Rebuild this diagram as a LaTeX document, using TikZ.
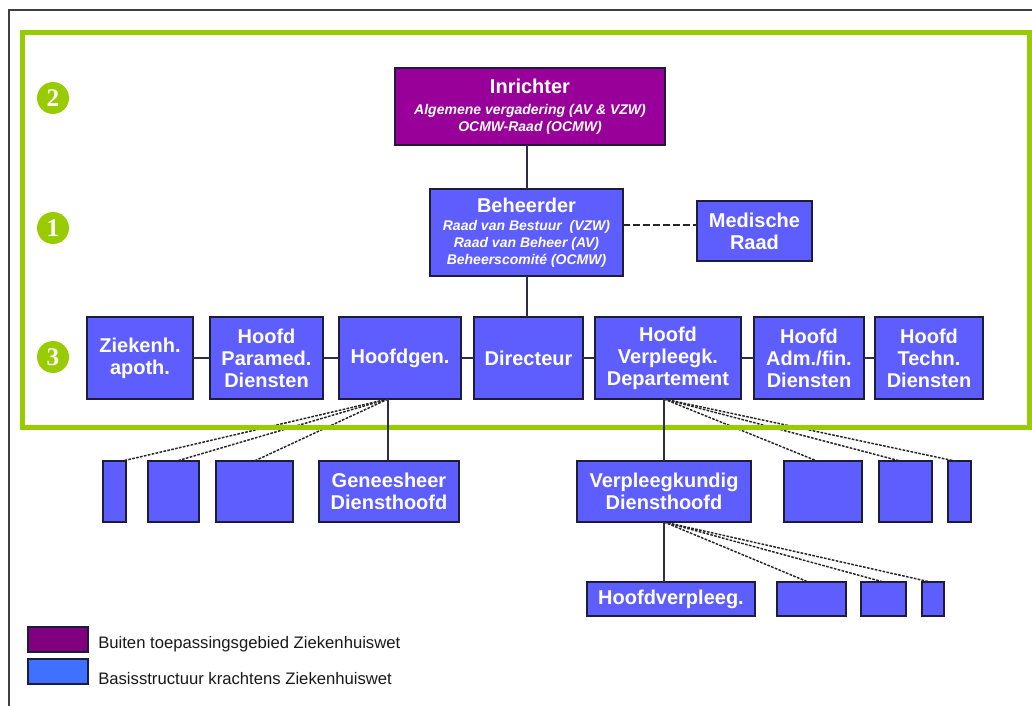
\documentclass[tikz,border=0pt]{standalone}
\usepackage{fontspec}
\setmainfont{Liberation Sans}
\newfontfamily\digitfont{Liberation Serif}
\usetikzlibrary{calc}
\definecolor{boxblue}{RGB}{94,94,255}
\definecolor{boxpurple}{RGB}{153,0,153}
\definecolor{boxline}{RGB}{28,28,60}
\definecolor{framegreen}{RGB}{153,204,0}
\definecolor{legblue}{RGB}{64,112,255}
\definecolor{legpurple}{RGB}{128,0,128}
\definecolor{conline}{RGB}{45,45,70}
\newcommand{\bfbox}{\normalfont\fontsize{15}{16.5}\selectfont\bfseries}
\newcommand{\itbox}{\normalfont\fontsize{10.5}{12.75}\selectfont\bfseries\itshape}
\newcommand{\ob}[7][orgbox]{\node[#1, minimum width={(#4-#2)*0.75pt}, minimum height={(#5-#3)*0.75pt}] (#6) at ({(#2+#4)/2},{(#3+#5)/2}) {#7};}
\begin{document}
\begin{tikzpicture}[x=0.75pt,y=-0.75pt,
  orgbox/.style={draw=boxline, line width=1.5pt, fill=boxblue, text=white, align=center, inner sep=0pt, outer sep=0pt, font=\bfbox},
  purplebox/.style={orgbox, fill=boxpurple, font=\itbox},
  headbox/.style={orgbox, font=\itbox},
  link/.style={draw=conline, line width=1.5pt},
  dotlink/.style={draw=black!85, line width=1.1pt, dash pattern=on 2pt off 1pt},
  medlink/.style={draw=black!85, line width=1.3pt, dash pattern=on 5pt off 2.5pt},
  badge/.style={circle, fill=framegreen, minimum size=24pt, inner sep=0pt, text=white, font=\digitfont\bfseries\fontsize{19}{19}\selectfont},
  legbox/.style={draw=boxline, line width=1.2pt, inner sep=0pt, outer sep=0pt},
  legtext/.style={anchor=west, inner sep=0pt, font=\fontsize{12.5}{14}\selectfont, text=black!90}
]
\useasboundingbox (0,0) rectangle (1032,706);

% boxes
\ob[purplebox]{395}{68}{665}{145}{inr}{{\bfbox Inrichter}\\[3pt]Algemene vergadering (AV \& VZW)\\OCMW-Raad (OCMW)}
\ob[headbox]{430}{189}{623}{276}{beh}{{\bfbox Beheerder}\\[1pt]Raad van Bestuur\ \ (VZW)\\Raad van Beheer (AV)\\Beheerscomit\'e (OCMW)}
\ob{697}{201}{812}{261}{med}{Medische\\Raad}
\ob{87}{317}{193}{399}{zie}{Ziekenh.\\apoth.}
\ob{210}{317}{323}{399}{par}{Hoofd\\Paramed.\\Diensten}
\ob{339}{317}{461}{399}{hgen}{Hoofdgen.}
\ob{474}{317}{583}{399}{dir}{Directeur}
\ob{595}{317}{741}{399}{hvd}{Hoofd\\Verpleegk.\\Departement}
\ob{754}{317}{864}{399}{adm}{Hoofd\\Adm./fin.\\Diensten}
\ob{875}{317}{983}{399}{tech}{Hoofd\\Techn.\\Diensten}
\ob{103}{461}{126}{522}{s1}{}
\ob{148}{461}{199}{522}{s2}{}
\ob{216}{461}{293}{522}{s3}{}
\ob{319}{461}{459}{522}{gen}{Geneesheer\\Diensthoofd}
\ob{577}{461}{751}{522}{vdh}{Verpleegkundig\\Diensthoofd}
\ob{784}{461}{862}{522}{a1}{}
\ob{879}{461}{932}{522}{a2}{}
\ob{948}{461}{971}{522}{a3}{}
\ob{587}{582}{755}{616}{hvp}{Hoofdverpleeg.}
\ob{777}{582}{846}{616}{b1}{}
\ob{861}{582}{906}{616}{b2}{}
\ob{922}{582}{944}{616}{b3}{}

\coordinate (hg0) at ([xshift=-9pt]hgen.south);
\coordinate (hv0) at ([xshift=-3pt]hvd.south);

% dashed fans
\draw[dotlink] (hg0) -- ([xshift=6pt]s1.north);
\draw[dotlink] (hg0) -- ([xshift=2.5pt]s2.north);
\draw[dotlink] (hg0) -- (s3.north);
\draw[dotlink] (hv0) -- ([xshift=-4.5pt]a1.north);
\draw[dotlink] (hv0) -- ([xshift=-4pt]a2.north);
\draw[dotlink] (hv0) -- ([xshift=-3.5pt]a3.north);
\draw[dotlink] (vdh.south) -- ([xshift=-2.5pt]b1.north);
\draw[dotlink] (vdh.south) -- (b2.north);
\draw[dotlink] (vdh.south) -- ([xshift=-2pt]b3.north);

% green frame
\draw[framegreen, line width=3.75pt] (22.5,32.5) rectangle (1029.5,427.5);

% solid links
\draw[link] (beh.north |- inr.south) -- (beh.north);
\draw[link] (beh.south) -- (beh.south |- dir.north);
\draw[medlink] ([yshift=4.5pt]med.west -| beh.east) -- ([yshift=4.5pt]med.west);
\draw[link] (zie.east) -- (par.west);
\draw[link] (par.east) -- (hgen.west);
\draw[link] (hgen.east) -- (dir.west);
\draw[link] (dir.east) -- (hvd.west);
\draw[link] (hvd.east) -- (adm.west);
\draw[link] (adm.east) -- (tech.west);
\draw[link] (hg0) -- (hg0 |- gen.north);
\draw[link] (hv0) -- (hv0 |- vdh.north);
\draw[link] (vdh.south) -- (vdh.south |- hvp.north);

% badges
\node[badge] (n2) at (53,98) {2};
\node[badge] (n1) at (53,228) {1};
\node[badge] (n3) at (53,357) {3};

% legend
\node[legbox, fill=legpurple, minimum width=45pt, minimum height=18.75pt] (lp) at (58,639.5) {};
\node[legbox, fill=legblue, minimum width=45pt, minimum height=18.75pt] (lb) at (58,671.5) {};
\node[legtext] (lpt) at (98,644) {Buiten toepassingsgebied Ziekenhuiswet};
\node[legtext] (lbt) at (98,679) {Basisstructuur krachtens Ziekenhuiswet};

% outer frame
\draw[black!75, line width=1.5pt] (9,706) -- (9,10) -- (1032,10);
\end{tikzpicture}
\end{document}
